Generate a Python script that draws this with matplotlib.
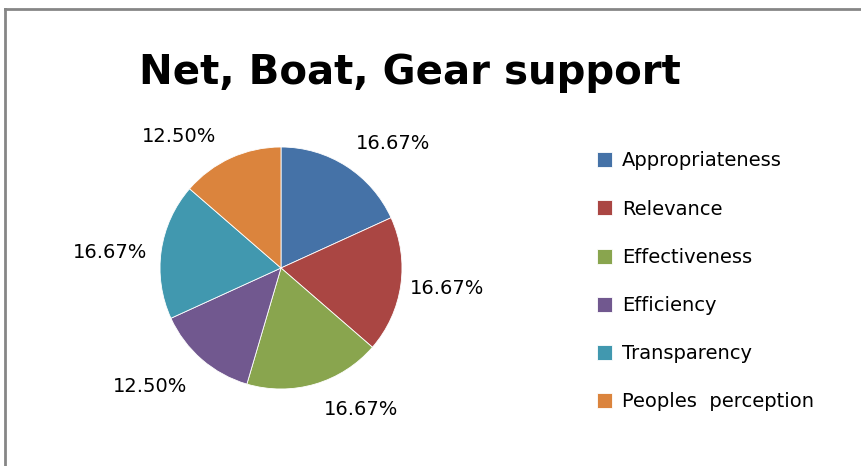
import matplotlib
matplotlib.use("Agg")
import matplotlib.pyplot as plt
from matplotlib.lines import Line2D

title = "Net, Boat, Gear support"
categories = ["Appropriateness", "Relevance", "Effectiveness", "Efficiency",
              "Transparency", "Peoples  perception"]
values = [16.67, 16.67, 16.67, 12.50, 16.67, 12.50]
colors = ["#4572A7", "#AA4643", "#89A54E", "#71588F", "#4198AF", "#DB843D"]
# label positions (in pie-radius units) as placed in the original chart
label_pos = [(0.93, 1.03), (1.37, -0.17), (0.66, -1.17), (-1.08, -0.98),
             (-1.41, 0.13), (-0.84, 1.09)]

W, H = 861, 466
fig = plt.figure(figsize=(W / 100, H / 100), dpi=100)
fig.patch.set_facecolor("white")

# chart border (top and left visible)
fig.add_artist(Line2D([5 / W, 1.0], [1 - 9 / H, 1 - 9 / H], transform=fig.transFigure,
                      color="#868686", lw=2))
fig.add_artist(Line2D([5 / W, 5 / W], [0.0, 1 - 9 / H], transform=fig.transFigure,
                      color="#868686", lw=2))

cx, cy, r = 281, 268, 121
ax = fig.add_axes([(cx - r) / W, (H - cy - r) / H, 2 * r / W, 2 * r / H])
wedges, _ = ax.pie(values, colors=colors, startangle=90, counterclock=False,
                   radius=1.0, wedgeprops=dict(linewidth=0.6, edgecolor="white"))
ax.set_xlim(-1, 1)
ax.set_ylim(-1, 1)
ax.set_aspect("equal")
ax.axis("off")

for v, (lx, ly) in zip(values, label_pos):
    ax.text(lx, ly, f"{v:.2f}%", ha="center", va="center", fontsize=14,
            color="#000000", clip_on=False)

fig.text(410 / W, 1 - 73 / H, title, ha="center", va="center",
         fontsize=29, fontweight="bold", color="#000000")

leg = fig.legend(wedges, categories, loc="upper left",
                 bbox_to_anchor=(579 / W, 1 - 134 / H), frameon=False,
                 fontsize=14, handlelength=0.8, handleheight=0.8,
                 handletextpad=0.5, labelspacing=1.5)

fig.savefig("out.png", dpi=100, facecolor="white")
